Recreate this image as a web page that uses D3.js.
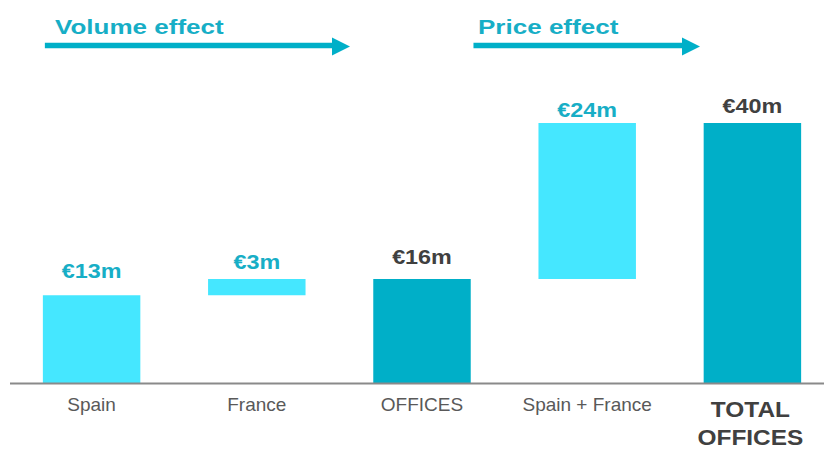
<!DOCTYPE html>
<html>
<head>
<meta charset="utf-8">
<script src="https://cdn.jsdelivr.net/npm/d3@7"></script>
<style>
  html, body { margin: 0; padding: 0; background: #fff; }
  svg { display: block; font-family: "Liberation Sans", Arial, sans-serif; }
</style>
</head>
<body>
<svg id="chart" width="824" height="450"></svg>
<script>
// ---- data ----
const categories = ["Spain", "France", "OFFICES", "Spain + France", "TOTAL OFFICES"];
const barStart   = [0, 13.5, 0, 16, 0];
const barEnd     = [13.5, 16, 16, 40, 40];
const valueLabels = ["€13m", "€3m", "€16m", "€24m", "€40m"];
const isTotal    = [false, false, true, false, true];
const effectTitles = ["Volume effect", "Price effect"];

// ---- layout (not data) ----
const labelLift = [17, 10, 15, 6.5, 10.5];

const svg = d3.select("#chart");
const baseY = 383, topY = 123;
const x = d3.scaleBand().domain(categories).range([9, 835]).paddingInner(0.41).paddingOuter(0.205);
const y = d3.scaleLinear().domain([0, 40]).range([baseY, topY]);

const lightCol = "#45E7FF", darkCol = "#00AFC8", labelTeal = "#17AEC6", darkText = "#404040";

const rows = categories.map((c, i) => ({c, i, s: barStart[i], e: barEnd[i], lab: valueLabels[i], tot: isTotal[i]}));

svg.selectAll("rect.bar").data(rows).join("rect")
  .attr("class", "bar")
  .attr("x", d => x(d.c))
  .attr("width", x.bandwidth())
  .attr("y", d => y(Math.max(d.s, d.e)))
  .attr("height", d => Math.abs(y(d.s) - y(d.e)))
  .attr("fill", d => d.tot ? darkCol : lightCol);

// baseline
svg.append("line").attr("x1", 10).attr("x2", 824).attr("y1", baseY + 0.5).attr("y2", baseY + 0.5)
  .attr("stroke", "#8a8a8a").attr("stroke-width", 2);

// value labels
svg.selectAll("text.val").data(rows).join("text")
  .attr("class", "val")
  .attr("transform", d => `translate(${x(d.c) + x.bandwidth() / 2},${y(Math.max(d.s, d.e)) - labelLift[d.i]}) scale(1.14,1)`)
  .attr("text-anchor", "middle")
  .attr("font-size", 20.5).attr("font-weight", "bold")
  .attr("fill", d => d.tot ? darkText : labelTeal)
  .text(d => d.lab);

// category labels
rows.forEach((d, i) => {
  const cx = x(d.c) + x.bandwidth() / 2;
  if (i === categories.length - 1) {
    const words = d.c.split(" ");
    svg.append("text").attr("transform", `translate(${cx - 2},417) scale(1.11,1)`)
      .attr("text-anchor", "middle").attr("font-size", 22).attr("font-weight", "bold")
      .attr("fill", darkText).text(words[0]);
    svg.append("text").attr("transform", `translate(${cx - 2},445) scale(1.11,1)`)
      .attr("text-anchor", "middle").attr("font-size", 22).attr("font-weight", "bold")
      .attr("fill", darkText).text(words[1]);
  } else {
    svg.append("text").attr("x", cx).attr("y", 411).attr("text-anchor", "middle")
      .attr("font-size", 19).attr("fill", "#595959").text(d.c);
  }
});

// effect arrows
const arrows = [
  {t: effectTitles[0], x0: x(categories[0]) + 2, x1: 350, tx: 55},
  {t: effectTitles[1], x0: x(categories[3]) - 65, x1: 700, tx: 478}
];
arrows.forEach(a => {
  svg.append("line").attr("x1", a.x0).attr("x2", a.x1 - 16).attr("y1", 45.5).attr("y2", 45.5)
    .attr("stroke", darkCol).attr("stroke-width", 5.5);
  svg.append("path")
    .attr("d", `M${a.x1 - 18},37.5 L${a.x1},46.5 L${a.x1 - 18},55.5 Z`)
    .attr("fill", darkCol);
  svg.append("text").attr("transform", `translate(${a.tx},34) scale(1.24,1)`)
    .attr("font-size", 21).attr("font-weight", "bold").attr("fill", labelTeal)
    .text(a.t);
});
</script>
</body>
</html>
